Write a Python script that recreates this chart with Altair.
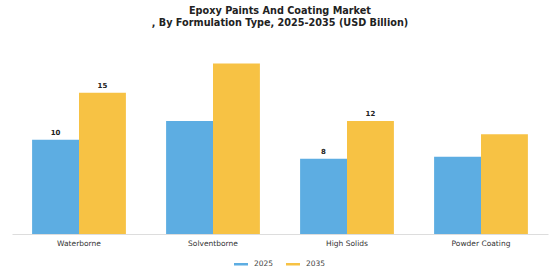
import altair as alt
import pandas as pd

categories = ["Waterborne", "Solventborne", "High Solids", "Powder Coating"]
values_2025 = [10, 12, 8, 8.2]
values_2035 = [15, 18.1, 12, 10.6]
labels_2025 = ["10", "", "8", ""]
labels_2035 = ["15", "", "12", ""]

rows = []
for c, v, l in zip(categories, values_2025, labels_2025):
    rows.append({"cat": c, "year": "2025", "value": v, "label": l})
for c, v, l in zip(categories, values_2035, labels_2035):
    rows.append({"cat": c, "year": "2035", "value": v, "label": l})
df = pd.DataFrame(rows)

x = alt.X("cat:N", sort=categories, title=None,
          scale=alt.Scale(paddingInner=0.3, paddingOuter=0.15),
          axis=alt.Axis(labelAngle=0, labelFontSize=7.5, labelColor="#333333",
                        labelFont="DejaVu Sans", domainColor="#dddddd",
                        ticks=False, labelPadding=5))
y = alt.Y("value:Q", title=None, scale=alt.Scale(domain=[0, 19], nice=False),
          axis=None)

bars = alt.Chart(df).mark_bar().encode(
    x=x, y=y,
    xOffset=alt.XOffset("year:N"),
    color=alt.Color("year:N", scale=alt.Scale(domain=["2025", "2035"], range=["#5DADE2", "#F7C244"]),
                    legend=alt.Legend(title=None, orient="none", direction="horizontal",
                                      legendX=222, legendY=202,
                                      symbolType="M-1,-0.18L1,-0.18L1,0.18L-1,0.18Z",
                                      symbolSize=196, labelFontSize=7.5, labelColor="#444444",
                                      labelFont="DejaVu Sans", columnPadding=12,
                                      labelOffset=6, symbolStrokeWidth=0))
)

texts = alt.Chart(df).mark_text(dy=-7, fontSize=7, fontWeight="bold", color="#222222",
                                font="DejaVu Sans").encode(
    x=alt.X("cat:N", sort=categories),
    xOffset=alt.XOffset("year:N"),
    y=alt.Y("value:Q"),
    text="label:N"
)

chart = (bars + texts).properties(
    width=536, height=179,
    title=alt.TitleParams(
        text=["Epoxy Paints And Coating Market", ", By Formulation Type, 2025-2035 (USD Billion)"],
        fontSize=9.7, font="DejaVu Sans", fontWeight="bold", color="#222222",
        anchor="middle", offset=25, lineHeight=12),
    padding={"left": 12, "top": 55, "right": 12, "bottom": 46},
    autosize=alt.AutoSizeParams(type="none")
).configure_view(stroke=None)

chart.save("out.html", embed_options={"renderer": "svg", "actions": False})
